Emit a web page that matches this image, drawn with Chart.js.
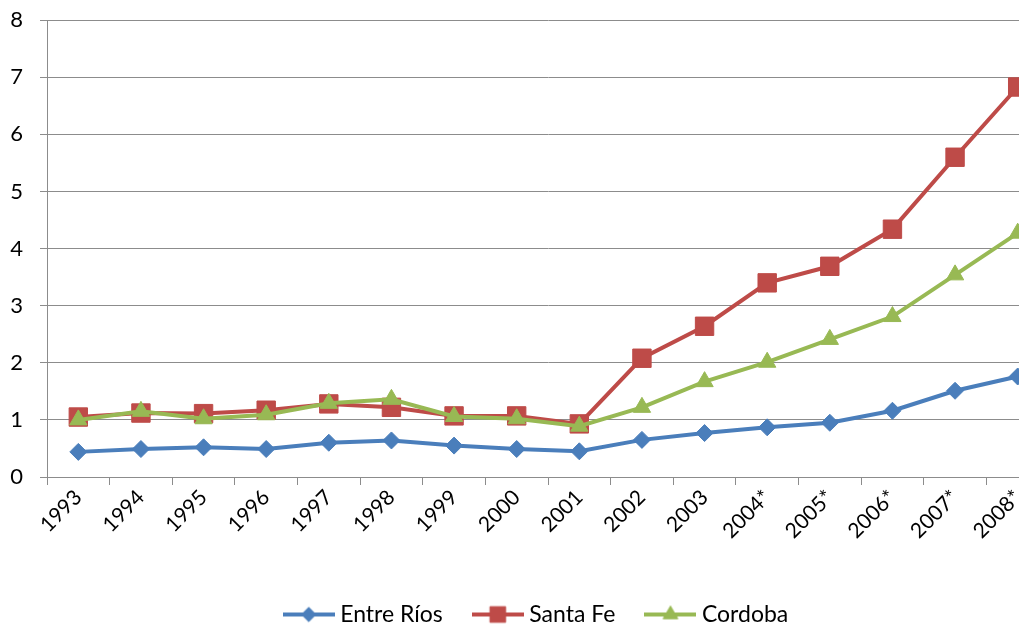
<!DOCTYPE html>
<html>
<head>
<meta charset="utf-8">
<script src="https://cdn.jsdelivr.net/npm/chart.js@4/dist/chart.umd.min.js"></script>
<style>
  html, body { margin: 0; padding: 0; background: #fff; overflow: hidden; }
  #wrap { width: 1092px; height: 646px; margin-top: -10px; position: relative; }
</style>
</head>
<body>
<div id="wrap"><canvas id="chart"></canvas></div>
<script>
// Datos
const years = ["1993", "1994", "1995", "1996", "1997", "1998", "1999", "2000",
               "2001", "2002", "2003", "2004*", "2005*", "2006*", "2007*", "2008*"];
const entreRios = [0.44, 0.49, 0.52, 0.49, 0.60, 0.64, 0.55, 0.49, 0.45, 0.65, 0.77, 0.87, 0.95, 1.16, 1.51, 1.76];
const santaFe   = [1.05, 1.12, 1.11, 1.17, 1.28, 1.22, 1.07, 1.07, 0.93, 2.08, 2.64, 3.40, 3.69, 4.34, 5.60, 6.83];
const cordoba   = [1.00, 1.15, 1.02, 1.09, 1.29, 1.36, 1.06, 1.02, 0.89, 1.22, 1.67, 2.01, 2.41, 2.81, 3.54, 4.27];
const yTicks = [0, 1, 2, 3, 4, 5, 6, 7, 8];

const FONT = "Lato, 'Open Sans', sans-serif";
const gridGray = "#8c8c8c";

// muestra de leyenda: linea + marcador (como Excel)
function legendSample(color, style, radius) {
  const c = document.createElement("canvas");
  c.width = 52; c.height = 24;
  const g = c.getContext("2d");
  g.strokeStyle = color;
  g.fillStyle = color;
  g.lineWidth = 4;
  g.beginPath();
  g.moveTo(0, 12); g.lineTo(52, 12);
  g.stroke();
  g.lineWidth = 1;
  Chart.helpers.drawPoint(g, { pointStyle: style, radius: radius, borderWidth: 1, rotation: 0 }, 26, 12);
  return c;
}

function series(label, data, color, style, radius, order) {
  return {
    label: label,
    data: data,
    borderColor: color,
    backgroundColor: color,
    borderWidth: 4,
    pointStyle: style,
    pointRadius: radius,
    pointHoverRadius: radius,
    pointBorderWidth: 1,
    tension: 0,
    order: order,
    sample: legendSample(color, style, radius * 0.85)
  };
}

// la leyenda del original esta centrada un poco mas a la derecha
const shiftLegend = {
  id: "shiftLegend",
  afterLayout(chart) {
    if (chart.legend) {
      chart.legend.left += 14;
      chart.legend.right += 14;
    }
  }
};

const ctx = document.getElementById("chart");
new Chart(ctx, {
  type: "line",
  data: {
    labels: years,
    datasets: [
      series("Entre Ríos", entreRios, "#4a7ebb", "rectRot", 8.5, 2),
      series("Santa Fe", santaFe, "#be4b48", "rect", 13, 1),
      series("Cordoba", cordoba, "#98b954", "triangle", 10, 0)
    ]
  },
  plugins: [shiftLegend],
  options: {
    responsive: true,
    maintainAspectRatio: false,
    animation: false,
    layout: { padding: { top: 0, right: 43, left: 0, bottom: 0 } },
    plugins: {
      tooltip: { enabled: false },
      legend: {
        position: "bottom",
        labels: {
          color: "#000",
          font: { family: FONT, size: 23 },
          usePointStyle: true,
          pointStyleWidth: 40,
          padding: 35,
          generateLabels: function(chart) {
            return chart.data.datasets.map((ds, i) => ({
              text: ds.label,
              pointStyle: ds.sample,
              fillStyle: ds.borderColor,
              strokeStyle: ds.borderColor,
              lineWidth: 0,
              hidden: false,
              datasetIndex: i,
              fontColor: "#000"
            }));
          }
        }
      }
    },
    scales: {
      x: {
        offset: true,
        grid: { offset: true, drawOnChartArea: false, drawTicks: true, tickLength: 8, color: gridGray },
        border: { color: gridGray, width: 1 },
        ticks: { color: "#000", font: { family: FONT, size: 21 }, minRotation: 45, maxRotation: 45, padding: 0, autoSkip: false },
        afterFit: function(scale) { scale.height = 91; }
      },
      y: {
        min: 0,
        max: 8,
        afterBuildTicks: function(scale) { scale.ticks = yTicks.map(v => ({ value: v })); },
        grid: { color: gridGray, tickLength: 7 },
        border: { color: gridGray, width: 1 },
        ticks: { color: "#000", font: { family: FONT, size: 22 }, padding: 17 },
        afterFit: function(scale) { scale.width = 47; }
      }
    }
  }
});
</script>
</body>
</html>
